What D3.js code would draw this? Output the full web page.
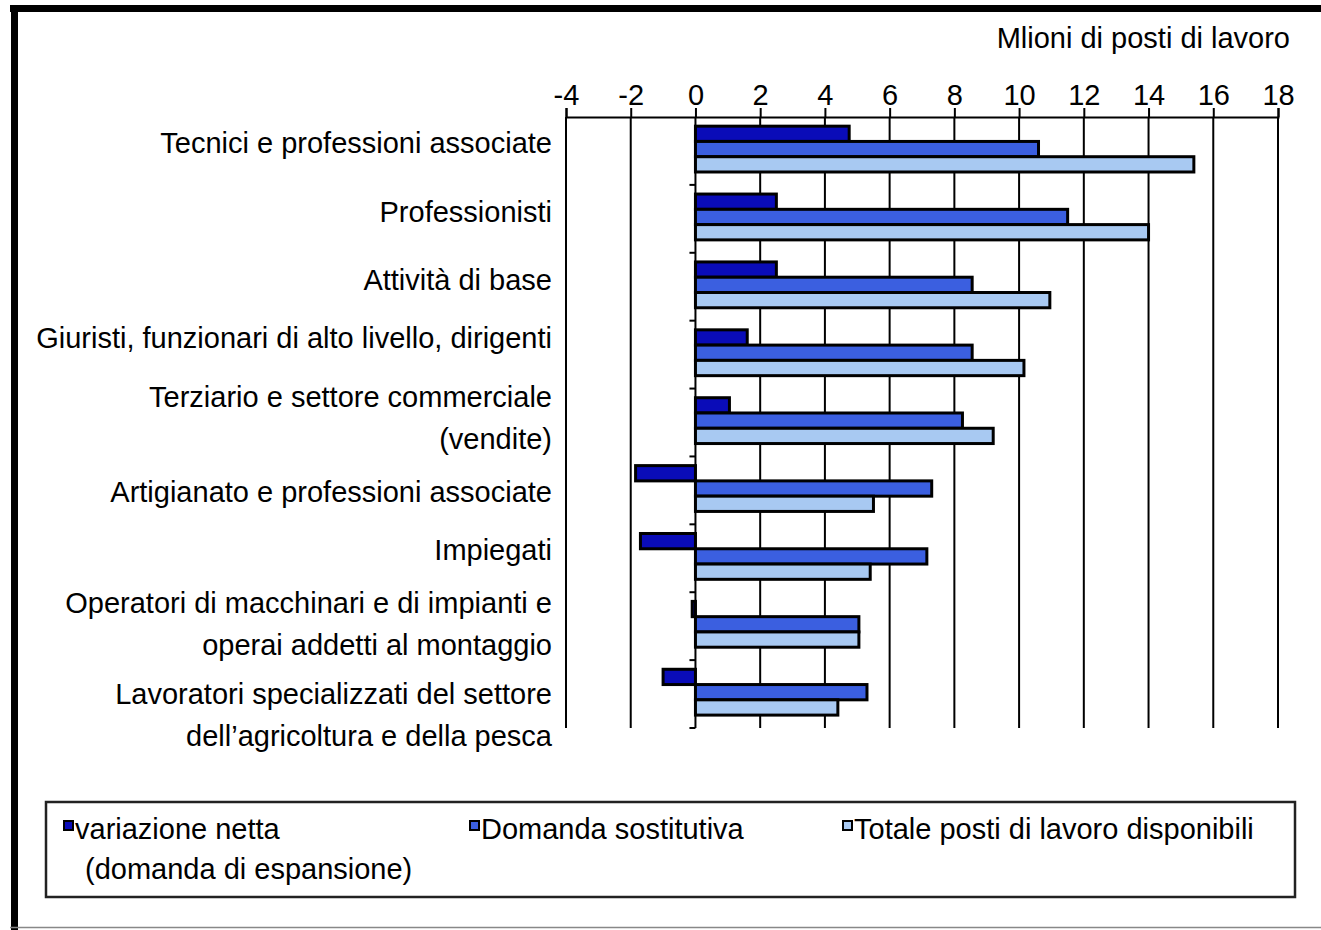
<!DOCTYPE html>
<html>
<head>
<meta charset="utf-8">
<script src="https://cdn.jsdelivr.net/npm/d3@7"></script>
<style>
  html, body { margin: 0; padding: 0; background: #fff; }
  svg { display: block; }
  text { font-family: "Liberation Sans", Arial, sans-serif; fill: #000; }
</style>
</head>
<body>
<svg id="chart" width="1321" height="930"></svg>
<script>
// ---------------- DATA ----------------
const categories = [
  "Tecnici e professioni associate",
  "Professionisti",
  "Attività di base",
  "Giuristi, funzionari di alto livello, dirigenti",
  "Terziario e settore commerciale\n(vendite)",
  "Artigianato e professioni associate",
  "Impiegati",
  "Operatori di macchinari e di impianti e\noperai addetti al montaggio",
  "Lavoratori specializzati del settore\ndell\u2019agricoltura e della pesca"
];
const seriesNames = [
  "variazione netta\n(domanda di espansione)",
  "Domanda sostitutiva",
  "Totale posti di lavoro disponibili"
];
const variazioneNetta    = [4.75, 2.5, 2.5, 1.6, 1.05, -1.85, -1.7, -0.1, -1.0];
const domandaSostitutiva = [10.6, 11.5, 8.55, 8.55, 8.25, 7.3, 7.15, 5.05, 5.3];
const totalePosti        = [15.4, 14.0, 10.95, 10.15, 9.2, 5.5, 5.4, 5.05, 4.4];
const xTicks = [-4, -2, 0, 2, 4, 6, 8, 10, 12, 14, 16, 18];
const axisTitle = "Mlioni di posti di lavoro";

// ---------------- LAYOUT ----------------
const W = 1321, H = 930;
const plot = { left: 566, right: 1278, top: 117, bottom: 728 };
const labelRight = 552;
const labelNudge = [-8, -7, -7, -17, -5, 2, -8, -2, 21]; // visual offset of category text vs band centre
const colors = ["#0a0cb8", "#3b5fe0", "#a8c9f2"];
const fontSize = 29;
const lineGap = 42;

const svg = d3.select("#chart");

// outer frame
svg.append("rect").attr("x", 0).attr("y", 0).attr("width", W).attr("height", H).attr("fill", "#fff");
svg.append("line").attr("x1", 10).attr("x2", W).attr("y1", 8.5).attr("y2", 8.5)
  .attr("stroke", "#000").attr("stroke-width", 7);
svg.append("line").attr("x1", 14.5).attr("x2", 14.5).attr("y1", 5).attr("y2", H)
  .attr("stroke", "#000").attr("stroke-width", 7);
svg.append("line").attr("x1", 10).attr("x2", W).attr("y1", 927.5).attr("y2", 927.5)
  .attr("stroke", "#888").attr("stroke-width", 1.5);

const x = d3.scaleLinear().domain([-4, 18]).range([plot.left, plot.right]);
const y = d3.scaleBand().domain(d3.range(categories.length)).range([plot.top, plot.bottom]).padding(0);
const bw = y.bandwidth();
const series = [variazioneNetta, domandaSostitutiva, totalePosti];

// gridlines
svg.append("g").selectAll("line").data(xTicks).join("line")
  .attr("x1", d => x(d)).attr("x2", d => x(d))
  .attr("y1", plot.top).attr("y2", plot.bottom)
  .attr("stroke", "#000").attr("stroke-width", 2);

// top axis
const axis = d3.axisTop(x).tickValues(xTicks).tickSize(9).tickPadding(3).tickFormat(d3.format("d"));
const ag = svg.append("g").attr("transform", `translate(0,${plot.top})`).call(axis);
ag.select(".domain").attr("stroke", "#000").attr("stroke-width", 2);
ag.selectAll(".tick line").attr("stroke", "#000").attr("stroke-width", 2);
ag.selectAll(".tick text").attr("font-size", fontSize).attr("font-family", "Liberation Sans, Arial, sans-serif").attr("fill", "#000")
  .text(d => d < 0 ? "-" + Math.abs(d) : d);

// axis title
svg.append("text").attr("x", 1290).attr("y", 48).attr("text-anchor", "end")
  .attr("font-size", fontSize).text(axisTitle);

// category ticks on zero line
svg.append("g").selectAll("line").data(d3.range(1, categories.length + 1)).join("line")
  .attr("x1", x(0) - 6).attr("x2", x(0))
  .attr("y1", d => plot.top + d * bw).attr("y2", d => plot.top + d * bw)
  .attr("stroke", "#000").attr("stroke-width", 2);

// bars
const barH = bw * 0.225, groupOff = bw * 0.135;
series.forEach((vals, si) => {
  svg.append("g").selectAll("rect").data(vals).join("rect")
    .attr("x", d => x(Math.min(0, d)))
    .attr("width", d => Math.abs(x(d) - x(0)))
    .attr("y", (d, i) => y(i) + groupOff + si * barH)
    .attr("height", barH)
    .attr("fill", colors[si])
    .attr("stroke", "#000").attr("stroke-width", 3);
});

// category labels
const lg = svg.append("g");
categories.forEach((c, i) => {
  const lines = c.split("\n");
  const cy = y(i) + bw / 2 + labelNudge[i];
  const first = cy - (lines.length - 1) * lineGap / 2 + 10;
  const t = lg.append("text").attr("text-anchor", "end").attr("font-size", fontSize);
  lines.forEach((ln, k) => {
    t.append("tspan").attr("x", labelRight).attr("y", first + k * lineGap).text(ln);
  });
});

// legend
const leg = { x: 46, y: 802, w: 1249, h: 95 };
svg.append("rect").attr("x", leg.x).attr("y", leg.y).attr("width", leg.w).attr("height", leg.h)
  .attr("fill", "#fff").attr("stroke", "#222").attr("stroke-width", 2.5);
const legX = [64, 470, 843];
seriesNames.forEach((n, si) => {
  svg.append("rect").attr("x", legX[si]).attr("y", 821).attr("width", 9).attr("height", 9)
    .attr("fill", colors[si]).attr("stroke", "#000").attr("stroke-width", 2);
  const lines = n.split("\n");
  const t = svg.append("text").attr("font-size", fontSize);
  lines.forEach((ln, k) => {
    t.append("tspan").attr("x", legX[si] + 11 + (k > 0 ? 10 : 0)).attr("y", 839 + k * 40).text(ln);
  });
});
</script>
</body>
</html>
